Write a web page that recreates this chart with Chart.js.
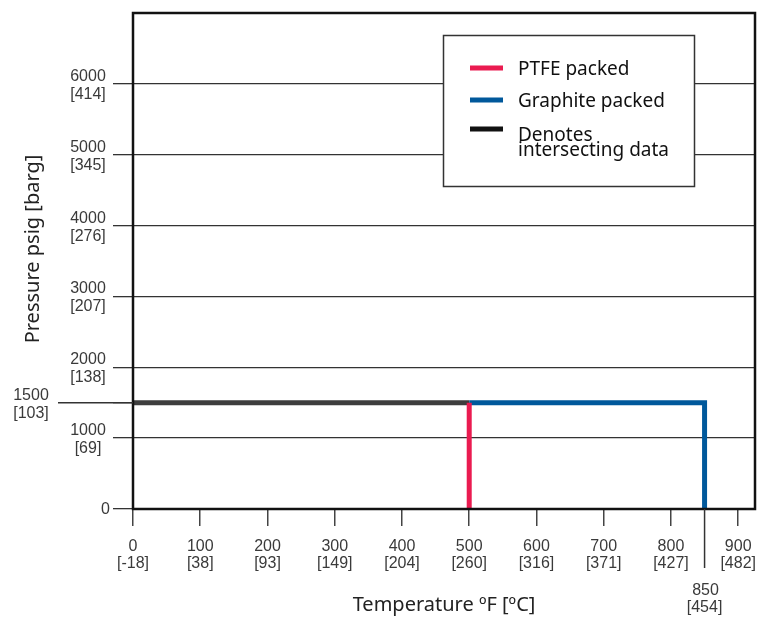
<!DOCTYPE html>
<html>
<head>
<meta charset="utf-8">
<script src="https://cdn.jsdelivr.net/npm/chart.js@4"></script>
<style>
    html, body { margin: 0; padding: 0; background: #fff; }
</style>
</head>
<body>
<canvas id="chart" width="757" height="619"></canvas>
<script>
// 溫度刻度 (°F) 與對應的攝氏標籤
const tempTicksF = [0, 100, 200, 300, 400, 500, 600, 700, 800, 900];
const tempTicksC = ["-18", "38", "93", "149", "204", "260", "316", "371", "427", "482"];

// 壓力刻度 (psig) 與對應的 barg 標籤
const pressTicks = [0, 1000, 1500, 2000, 3000, 4000, 5000, 6000];
const pressTicksBar = ["", "69", "103", "138", "207", "276", "345", "414"];

// 額外標註的溫度點 (石墨填料上限)
const markTempF = 850;
const markTempC = "454";

// 資料序列
const ptfeTemp = [500, 500];
const ptfePress = [1500, 0];
const graphiteTemp = [500, 850, 850];
const graphitePress = [1500, 1500, 0];
const sharedTemp = [0, 500];
const sharedPress = [1500, 1500];

const seriesLabels = ["PTFE packed", "Graphite packed", "Denotes\nintersecting data"];
const seriesColors = ["#ea1b50", "#00589b", "#3d3d3d"];
const legendSwatchColors = ["#ea1b50", "#00589b", "#111111"];

const toPoints = (xs, ys) => xs.map((x, i) => ({ x: x, y: ys[i] }));

const tickFont = "16px 'Liberation Sans', Arial, sans-serif";
const titleFont = "20px 'Noto Sans', 'Open Sans', sans-serif";

// 外框、Y 軸標籤、850 標註與圖例
const decorPlugin = {
    id: "decor",
    afterDatasetsDraw(chart) {
        const ctx = chart.ctx;
        const area = chart.chartArea;
        const xs = chart.scales.x;
        const ys = chart.scales.y;
        ctx.save();

        // 圖框
        ctx.strokeStyle = "#111";
        ctx.lineWidth = 2.5;
        ctx.strokeRect(area.left, area.top, area.right - area.left, area.bottom - area.top);

        // Y 軸刻度文字
        ctx.fillStyle = "#3a3a3a";
        ctx.font = tickFont;
        pressTicks.forEach((v, i) => {
            const py = ys.getPixelForValue(v);
            if (v === 0) {
                ctx.textAlign = "right";
                ctx.textBaseline = "middle";
                ctx.fillText(String(v), 110, py + 1);
                return;
            }
            const cx = v === 1500 ? 31 : 88;
            ctx.textAlign = "center";
            ctx.textBaseline = "alphabetic";
            ctx.fillText(String(v), cx, py - 3);
            ctx.fillText("[" + pressTicksBar[i] + "]", cx, py + 15);
            if (v === 1500) {
                ctx.strokeStyle = "#333";
                ctx.lineWidth = 1.5;
                ctx.beginPath();
                ctx.moveTo(58, py);
                ctx.lineTo(area.left, py);
                ctx.stroke();
            }
        });

        // 850 °F 標註
        const mx = xs.getPixelForValue(markTempF);
        ctx.strokeStyle = "#333";
        ctx.lineWidth = 1.5;
        ctx.beginPath();
        ctx.moveTo(mx, area.bottom);
        ctx.lineTo(mx, area.bottom + 59);
        ctx.stroke();
        ctx.fillStyle = "#3a3a3a";
        ctx.textAlign = "center";
        ctx.textBaseline = "alphabetic";
        ctx.fillText(String(markTempF), mx + 1, area.bottom + 86);
        ctx.fillText("[" + markTempC + "]", mx, area.bottom + 103);

        // Y 軸標題
        ctx.save();
        ctx.translate(33, 249);
        ctx.rotate(-Math.PI / 2);
        ctx.font = titleFont;
        ctx.fillStyle = "#222";
        ctx.textAlign = "center";
        ctx.textBaseline = "middle";
        ctx.fillText("Pressure psig [barg]", 0, 0);
        ctx.restore();

        // 圖例
        ctx.fillStyle = "#fff";
        ctx.fillRect(443, 35, 251, 151);
        ctx.strokeStyle = "#333";
        ctx.lineWidth = 1.5;
        ctx.strokeRect(443.5, 35.5, 251, 151);
        const rowY = [68, 100, 129];
        ctx.font = "19px 'Noto Sans', 'Open Sans', sans-serif";
        ctx.textAlign = "left";
        ctx.textBaseline = "alphabetic";
        seriesLabels.forEach((label, i) => {
            ctx.strokeStyle = legendSwatchColors[i];
            ctx.lineWidth = 5;
            ctx.beginPath();
            ctx.moveTo(470, rowY[i]);
            ctx.lineTo(503, rowY[i]);
            ctx.stroke();
            ctx.fillStyle = "#111";
            const lines = label.split("\n");
            const base = lines.length > 1 ? rowY[i] + 12 : rowY[i] + 7;
            lines.forEach((t, j) => ctx.fillText(t, 518, base + j * 15));
        });

        ctx.restore();
    }
};

const ctx = document.getElementById("chart").getContext("2d");
new Chart(ctx, {
    type: "line",
    data: {
        datasets: [
            { label: seriesLabels[0], data: toPoints(ptfeTemp, ptfePress), borderColor: seriesColors[0] },
            { label: seriesLabels[1], data: toPoints(graphiteTemp, graphitePress), borderColor: seriesColors[1] },
            { label: seriesLabels[2], data: toPoints(sharedTemp, sharedPress), borderColor: seriesColors[2] }
        ]
    },
    options: {
        responsive: false,
        devicePixelRatio: 1,
        animation: false,
        layout: { padding: { top: 13, right: 2, left: 0, bottom: 0 } },
        plugins: {
            legend: { display: false },
            tooltip: { enabled: false }
        },
        elements: {
            point: { radius: 0 },
            line: { borderWidth: 5, tension: 0, borderCapStyle: "butt", borderJoinStyle: "miter", fill: false }
        },
        scales: {
            x: {
                type: "linear",
                min: 0,
                max: 925,
                afterBuildTicks: s => { s.ticks = tempTicksF.map(v => ({ value: v })); },
                afterFit: s => { s.height = 110; s.paddingLeft = 0; s.paddingRight = 0; },
                border: { display: false },
                grid: { drawOnChartArea: false, drawTicks: true, tickLength: 17, color: "#444", lineWidth: 1.5 },
                ticks: {
                    autoSkip: false,
                    maxRotation: 0,
                    padding: 12,
                    color: "#3a3a3a",
                    font: { family: "'Liberation Sans', Arial, sans-serif", size: 16, lineHeight: 1.05 },
                    callback: (v, i) => [String(v), "[" + tempTicksC[i] + "]"]
                },
                title: {
                    display: true,
                    text: "Temperature ºF [ºC]",
                    color: "#222",
                    font: { family: "'Noto Sans', 'Open Sans', sans-serif", size: 20 },
                    padding: { top: 0, bottom: 2 }
                }
            },
            y: {
                type: "linear",
                min: 0,
                max: 7000,
                afterBuildTicks: s => { s.ticks = pressTicks.map(v => ({ value: v })); },
                afterFit: s => { s.width = 133; s.paddingTop = 0; s.paddingBottom = 0; },
                border: { display: false },
                grid: {
                    color: c => (c.tick && c.tick.value === 1500) ? "rgba(0,0,0,0)" : "#333",
                    tickColor: "#333",
                    lineWidth: 1.3,
                    tickLength: 20
                },
                ticks: { display: false }
            }
        }
    },
    plugins: [decorPlugin]
});
</script>
</body>
</html>
